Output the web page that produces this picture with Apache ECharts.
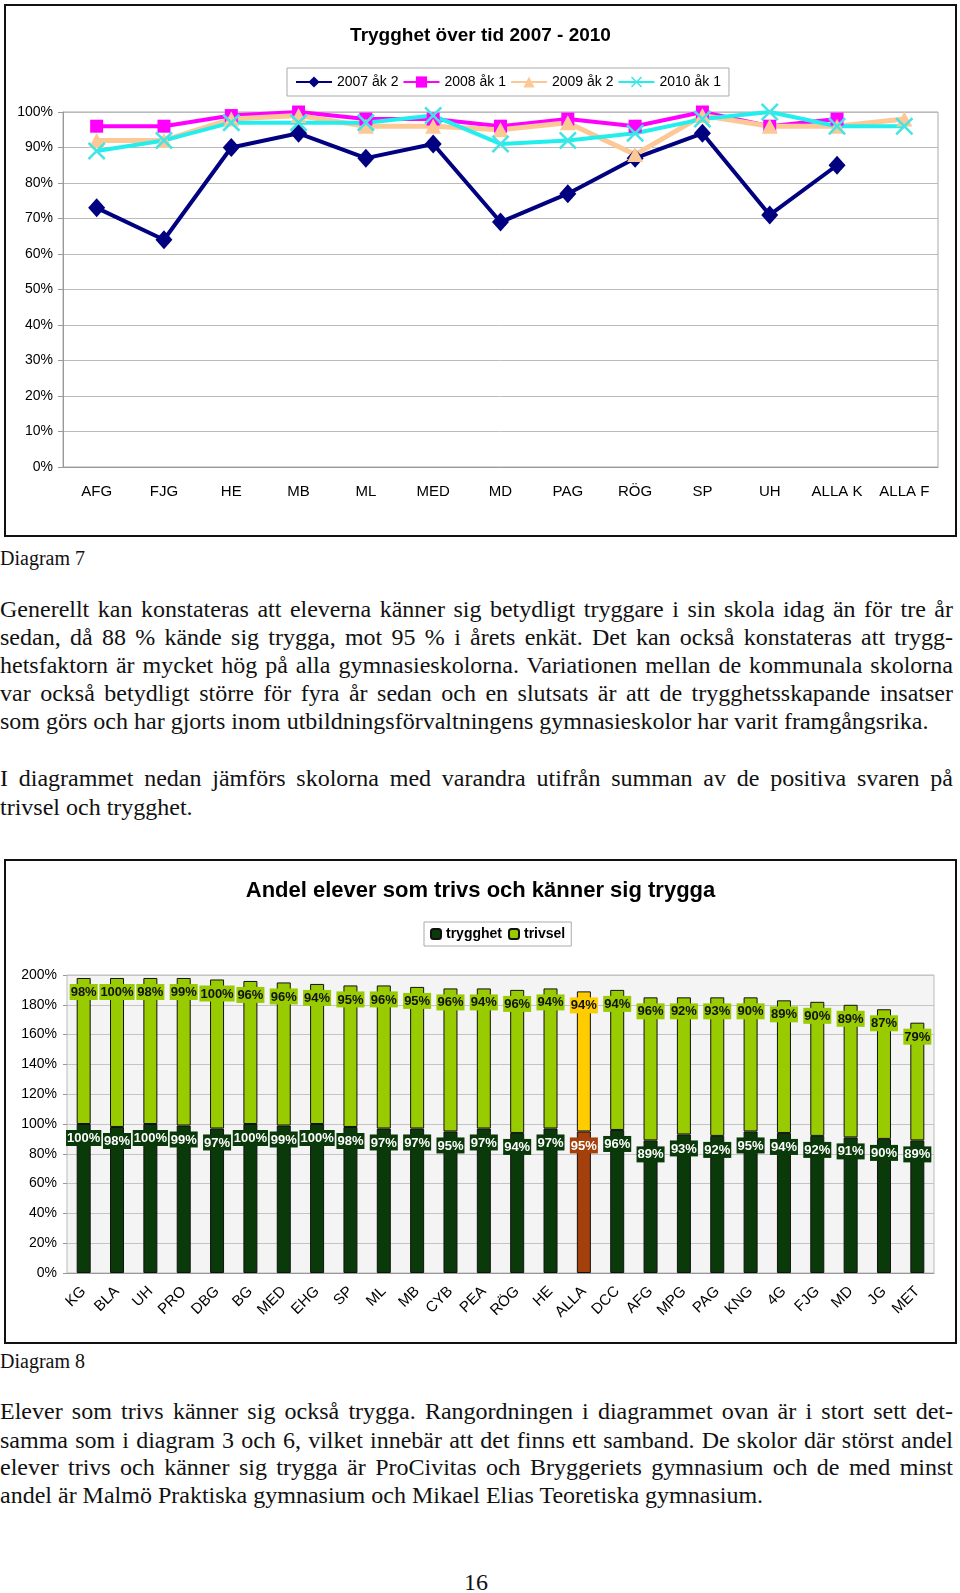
<!DOCTYPE html>
<html>
<head>
<meta charset="utf-8">
<script src="https://cdn.jsdelivr.net/npm/echarts@6/dist/echarts.min.js"></script>
<style>
body{margin:0;background:#fff;width:960px;height:1593px;position:relative;overflow:hidden}
.box{position:absolute;left:4px;width:949px;border:2px solid #111;background:#fff}
.box div.chart{width:949px;height:100%}
.ln{position:absolute;left:0;width:953px;height:28px;line-height:28px;font-family:"Liberation Serif",serif;font-size:24px;color:#111;white-space:nowrap}
.j{text-align:justify;text-align-last:justify}
</style>
</head>
<body>
<div class="box" style="top:4px;height:529px"><div class="chart" id="c1"></div></div>
<div class="ln" style="top:544px;font-size:20px">Diagram 7</div>

<div class="ln j" style="top:595px">Generellt kan konstateras att eleverna känner sig betydligt tryggare i sin skola idag än för tre år</div>
<div class="ln j" style="top:623px">sedan, då 88 % kände sig trygga, mot 95 % i årets enkät. Det kan också konstateras att trygg-</div>
<div class="ln j" style="top:651px">hetsfaktorn är mycket hög på alla gymnasieskolorna. Variationen mellan de kommunala skolorna</div>
<div class="ln j" style="top:679px">var också betydligt större för fyra år sedan och en slutsats är att de trygghetsskapande insatser</div>
<div class="ln" style="top:707px">som görs och har gjorts inom utbildningsförvaltningens gymnasieskolor har varit framgångsrika.</div>

<div class="ln j" style="top:764px">I diagrammet nedan jämförs skolorna med varandra utifrån summan av de positiva svaren på</div>
<div class="ln" style="top:793px">trivsel och trygghet.</div>

<div class="box" style="top:859px;height:481px"><div class="chart" id="c2"></div></div>
<div class="ln" style="top:1347px;font-size:20px">Diagram 8</div>

<div class="ln j" style="top:1397px">Elever som trivs känner sig också trygga. Rangordningen i diagrammet ovan är i stort sett det-</div>
<div class="ln j" style="top:1426px">samma som i diagram 3 och 6, vilket innebär att det finns ett samband. De skolor där störst andel</div>
<div class="ln j" style="top:1453px">elever trivs och känner sig trygga är ProCivitas och Bryggeriets gymnasium och de med minst</div>
<div class="ln" style="top:1481px">andel är Malmö Praktiska gymnasium och Mikael Elias Teoretiska gymnasium.</div>

<div class="ln" style="top:1568px;text-align:center;width:952px">16</div>

<script>
// Diagram 7 - trygghet över tid
var schoolsLine = ['AFG', 'FJG', 'HE', 'MB', 'ML', 'MED', 'MD', 'PAG', 'RÖG', 'SP', 'UH', 'ALLA K', 'ALLA F'];
var year2007 = [73, 64, 90, 94, 87, 91, 69, 77, 87, 94, 71, 85, null];
var year2008 = [96, 96, 99, 100, 98, 98, 96, 98, 96, 100, 96, 98, null];
var year2009 = [92, 92, 98, 99, 96, 96, 95, 97, 88, 99, 96, 96, 98];
var year2010 = [89, 92, 97, 97, 97, 99, 91, 92, 94, 98, 100, 96, 96];
var lineTicks = [0, 100, 10];

// Diagram 8 - trivs och trygga
var schoolsBar = ['KG', 'BLA', 'UH', 'PRO', 'DBG', 'BG', 'MED', 'EHG', 'SP', 'ML', 'MB', 'CYB', 'PEA', 'RÖG', 'HE', 'ALLA', 'DCC', 'AFG', 'MPG', 'PAG', 'KNG', '4G', 'FJG', 'MD', 'JG', 'MET'];
var trygghet = [100, 98, 100, 99, 97, 100, 99, 100, 98, 97, 97, 95, 97, 94, 97, 95, 96, 89, 93, 92, 95, 94, 92, 91, 90, 89];
var trivsel = [98, 100, 98, 99, 100, 96, 96, 94, 95, 96, 95, 96, 94, 96, 94, 94, 94, 96, 92, 93, 90, 89, 90, 89, 87, 79];
var barTicks = [0, 200, 20];

var narrow = '"Liberation Sans Narrow", "Liberation Sans", Arial, sans-serif';
var sans = '"Liberation Sans", Arial, sans-serif';

var xSymbol = 'path://M1,0 L5,4 L9,0 L10,1 L6,5 L10,9 L9,10 L5,6 L1,10 L0,9 L4,5 L0,1 Z';

var chart1 = echarts.init(document.getElementById('c1'));
chart1.setOption({
  animation: false,
  textStyle: {fontFamily: narrow},
  title: {
    text: 'Trygghet över tid 2007 - 2010', left: 'center', top: 15,
    textStyle: {fontSize: 19, fontWeight: 'bold', color: '#000', fontFamily: narrow}
  },
  legend: {
    left: 281, top: 62, padding: [7, 8], itemGap: 4, itemWidth: 36, itemHeight: 14,
    borderColor: '#aaa', borderWidth: 1,
    textStyle: {fontSize: 14, color: '#000', fontFamily: narrow}
  },
  grid: {left: 57, right: 17, top: 106, bottom: 68, show: true, borderColor: '#aaa', borderWidth: 1},
  xAxis: {
    type: 'category', data: schoolsLine,
    axisLine: {lineStyle: {color: '#999'}},
    axisTick: {length: 6, lineStyle: {color: '#999'}},
    axisLabel: {color: '#000', fontSize: 15, margin: 17, fontFamily: narrow}
  },
  yAxis: {
    type: 'value', min: lineTicks[0], max: lineTicks[1], interval: lineTicks[2],
    axisLine: {show: true, lineStyle: {color: '#999'}},
    axisTick: {show: true, length: 5, lineStyle: {color: '#999'}},
    axisLabel: {formatter: '{value}%', color: '#000', fontSize: 14, margin: 10, fontFamily: narrow},
    splitLine: {lineStyle: {color: '#bbb'}}
  },
  series: [
    {name: '2007 åk 2', type: 'line', data: year2007, symbol: 'diamond', symbolSize: [17, 19],
      lineStyle: {width: 4, color: '#000080'}, itemStyle: {color: '#000080'}},
    {name: '2008 åk 1', type: 'line', data: year2008, symbol: 'rect', symbolSize: 13,
      lineStyle: {width: 4, color: '#ff00ff'}, itemStyle: {color: '#ff00ff'}},
    {name: '2009 åk 2', type: 'line', data: year2009, symbol: 'triangle', symbolSize: [16, 15],
      lineStyle: {width: 5, color: '#fcc896'}, itemStyle: {color: '#fcc896'}},
    {name: '2010 åk 1', type: 'line', data: year2010, symbol: xSymbol, symbolSize: 18,
      lineStyle: {width: 4, color: '#22eeee'}, itemStyle: {color: '#44e4e4'}}
  ]
});

// bar colours, ALLA gets its own
var darkGreen = '#0b3a0a', lightGreen = '#99cc00', rust = '#a3400c', yellow = '#ffcc00';

function barData(values, color, specialColor) {
  return values.map(function (v, i) {
    if (schoolsBar[i] !== 'ALLA') return v;
    return {value: v, itemStyle: {color: specialColor}, label: {backgroundColor: specialColor}};
  });
}

var chart2 = echarts.init(document.getElementById('c2'));
chart2.setOption({
  animation: false,
  textStyle: {fontFamily: sans},
  title: {
    text: 'Andel elever som trivs och känner sig trygga', left: 'center', top: 14,
    textStyle: {fontSize: 22, fontWeight: 'bold', color: '#000', fontFamily: sans}
  },
  legend: {
    left: 418, top: 61, padding: [5, 6], itemGap: 6, itemWidth: 10, itemHeight: 10,
    borderColor: '#aaa', borderWidth: 1,
    textStyle: {fontSize: 14, fontWeight: 'bold', color: '#000', fontFamily: sans}
  },
  grid: {left: 61, right: 21, top: 114, bottom: 69, show: true, backgroundColor: '#f4f4f4', borderColor: '#bbb', borderWidth: 1},
  xAxis: {
    type: 'category', data: schoolsBar,
    axisLine: {lineStyle: {color: '#999'}},
    axisTick: {length: 5, lineStyle: {color: '#999'}},
    axisLabel: {color: '#000', fontSize: 15, rotate: 45, margin: 16, interval: 0}
  },
  yAxis: {
    type: 'value', min: barTicks[0], max: barTicks[1], interval: barTicks[2],
    axisLine: {show: false},
    axisTick: {show: true, length: 4, lineStyle: {color: '#999'}},
    axisLabel: {formatter: '{value}%', color: '#000', fontSize: 14, margin: 10},
    splitLine: {lineStyle: {color: '#c4c4c4'}}
  },
  series: [
    {name: 'trygghet', type: 'bar', stack: 'sum', barWidth: 14, data: barData(trygghet, darkGreen, rust),
      itemStyle: {color: darkGreen, borderColor: '#111', borderWidth: 1},
      label: {show: true, position: 'insideTop', distance: 6, formatter: '{c}%', color: '#fff',
        fontSize: 13, fontWeight: 'bold', backgroundColor: darkGreen, padding: [2, 1, 1, 1]}},
    {name: 'trivsel', type: 'bar', stack: 'sum', barWidth: 14, data: barData(trivsel, lightGreen, yellow),
      itemStyle: {color: lightGreen, borderColor: '#111', borderWidth: 1},
      label: {show: true, position: 'insideTop', distance: 6, formatter: '{c}%', color: '#111',
        fontSize: 13, fontWeight: 'bold', backgroundColor: lightGreen, padding: [2, 1, 1, 1]}}
  ]
});
</script>
</body>
</html>
